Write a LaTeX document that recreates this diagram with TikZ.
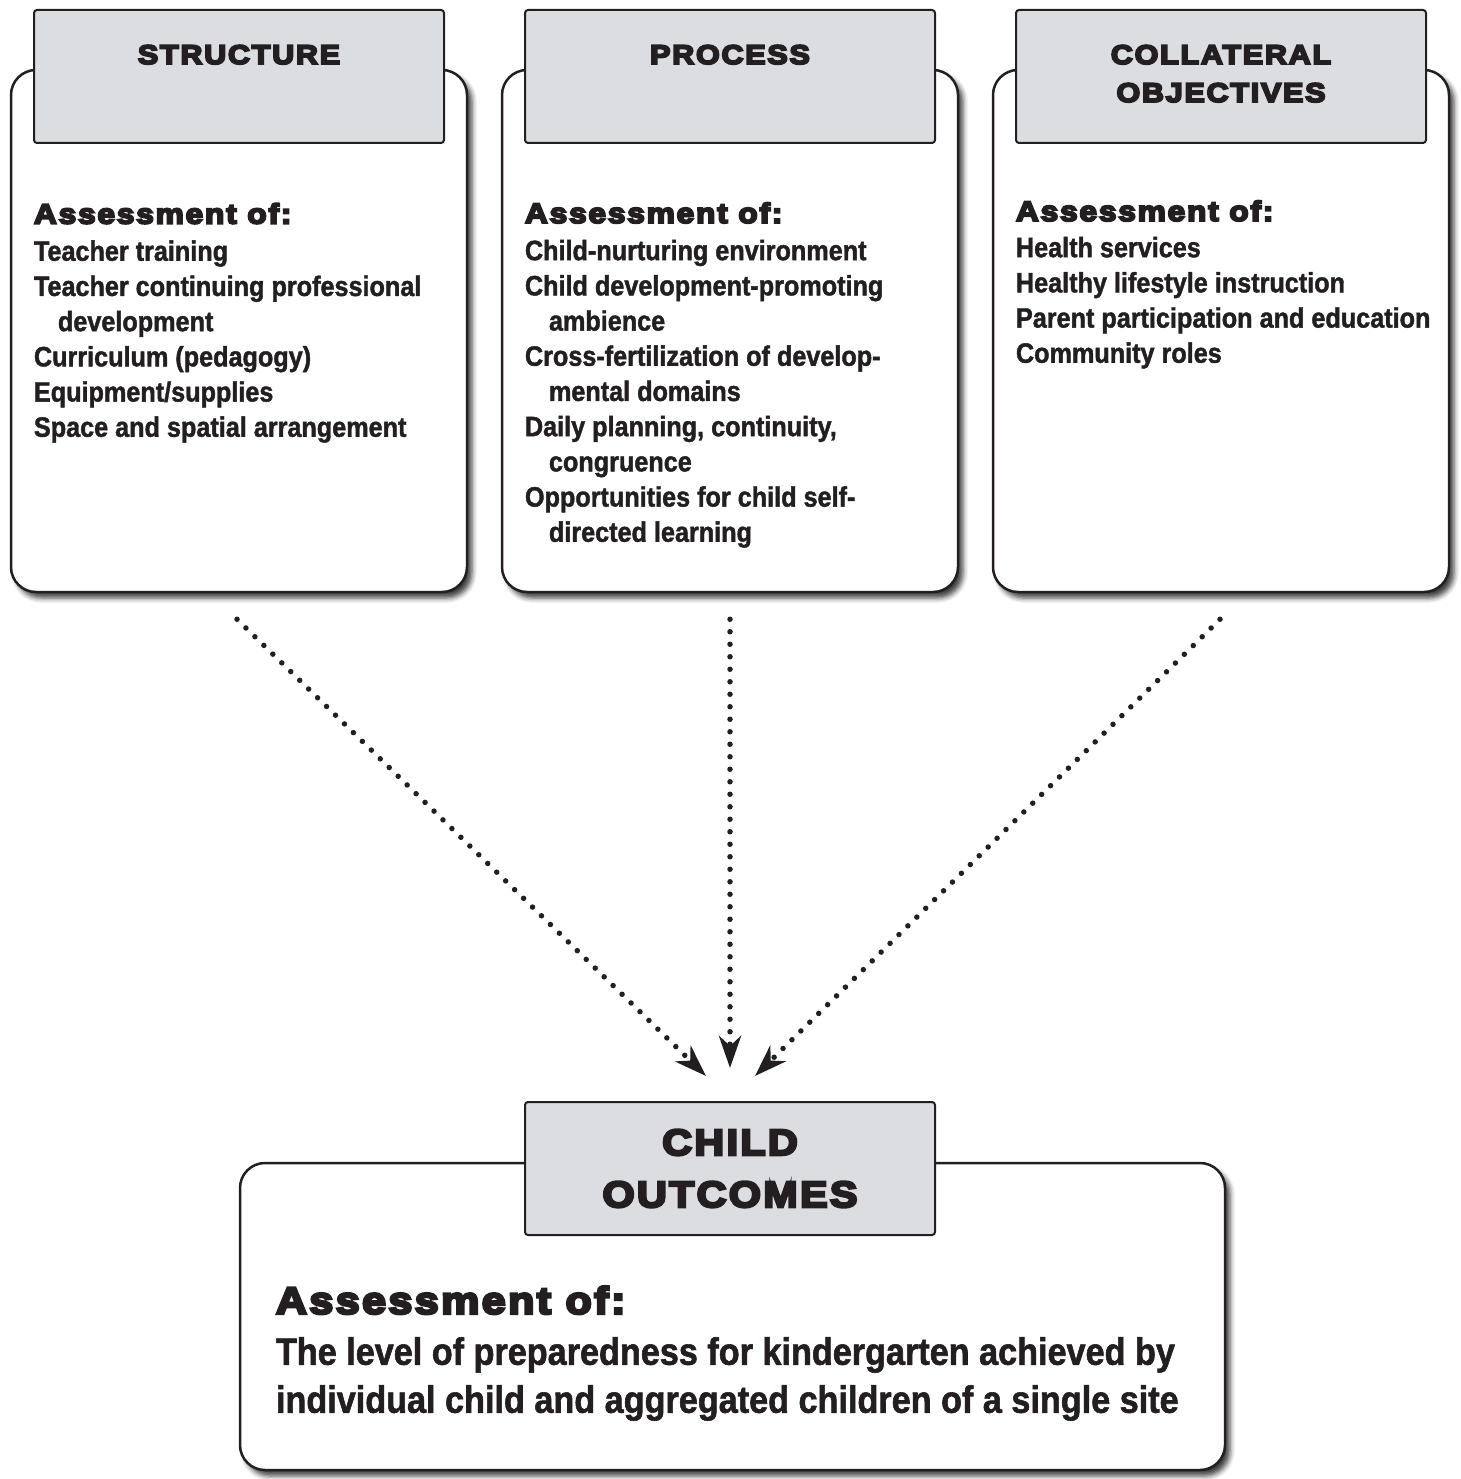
\documentclass[tikz,border=0pt]{standalone}
\usepackage{fontspec}
\setmainfont{Liberation Sans}
\newfontfamily\bodyfont[FakeStretch=0.9,FakeBold=1.5]{Liberation Sans}
\newfontfamily\heavyfont[FakeStretch=1.13,FakeBold=7,LetterSpace=6.5]{Liberation Sans}
\usepackage{tikz}
\usetikzlibrary{arrows.meta, calc, shadows.blur, positioning}
\definecolor{ink}{HTML}{231F20}
\definecolor{headgray}{HTML}{DCDDE0}
\newcommand{\hangline}[1]{\hspace*{24pt}#1}
\newcommand{\assesshead}{{\heavyfont\bfseries Assessment of:}}

\begin{document}
\begin{tikzpicture}[x=1pt, y=-1pt,
    panel/.style={draw=ink, line width=2.5pt, rounded corners=25pt, fill=white,
        minimum width=456pt, minimum height=522pt, inner sep=0pt,
        blur shadow={shadow xshift=5pt, shadow yshift=-6pt, shadow blur radius=5pt, shadow opacity=75}},
    headbox/.style={draw=ink, line width=2pt, rounded corners=3pt, fill=headgray,
        minimum width=410pt, minimum height=133pt, inner sep=0pt},
    headtext/.style={font=\heavyfont\bfseries\fontsize{27}{38}\selectfont, text=ink,
        align=center, inner sep=0pt, anchor=base},
    listtext/.style={font=\bodyfont\bfseries\fontsize{28}{35.2}\selectfont, text=ink,
        align=left, inner sep=0pt, anchor=base west},
    dotarrow/.style={draw=ink, line width=5.5pt, line cap=round, dash pattern=on 0pt off 12.5pt,
        -{Stealth[length=32pt, width=22pt, inset=10pt]}}
]
    \useasboundingbox (0,0) rectangle (1460,1479);

    \node[panel] (structure) at (239,331) {};
    \node[panel] (process) at (730,331) {};
    \node[panel] (collateral) at (1221,331) {};
    \node[panel, minimum width=985pt, minimum height=307pt] (outcomes) at (732.5,1316.5) {};

    \node[headbox] (structurehead) at (239,76.5) {};
    \node[headbox] (processhead) at (730,76.5) {};
    \node[headbox] (collateralhead) at (1221,76.5) {};
    \node[headbox] (outcomeshead) at (730,1168.5) {};

    \node[headtext] (structuretitle) at ($(structurehead.north)+(0,55)$) {STRUCTURE};
    \node[headtext] (processtitle) at ($(processhead.north)+(0,55)$) {PROCESS};
    \node[headtext] (collateraltitle) at ($(collateralhead.north)+(0,93)$) {COLLATERAL\\OBJECTIVES};
    \node[headtext, font=\heavyfont\bfseries\fontsize{36.5}{52}\selectfont]
        (outcomestitle) at ($(outcomeshead.north)+(0,106)$) {CHILD\\OUTCOMES};

    \node[listtext] (structurelist) at ($(structure.north west)+(24,368)$) {
        \assesshead\\[2pt]
        Teacher training\\
        Teacher continuing professional\\
        \hangline{development}\\
        Curriculum (pedagogy)\\
        Equipment/supplies\\
        Space and spatial arrangement};
    \node[listtext] (processlist) at ($(process.north west)+(24,473)$) {
        \assesshead\\[2pt]
        Child-nurturing environment\\
        Child development-promoting\\
        \hangline{ambience}\\
        Cross-fertilization of develop-\\
        \hangline{mental domains}\\
        Daily planning, continuity,\\
        \hangline{congruence}\\
        Opportunities for child self-\\
        \hangline{directed learning}};
    \node[listtext] (collaterallist) at ($(collateral.north west)+(24,294)$) {
        \assesshead\\[1pt]
        Health services\\
        Healthy lifestyle instruction\\
        Parent participation and education\\
        Community roles};
    \node[listtext, font=\bodyfont\bfseries\fontsize{38}{48}\selectfont]
        (outcomeslist) at ($(outcomes.north west)+(37,251)$) {
        \assesshead\\[3pt]
        The level of preparedness for kindergarten achieved by\\
        individual child and aggregated children of a single site};

    \coordinate (structureout) at ($(structure.south)+(-2,26)$);
    \coordinate (processout) at ($(process.south)+(0,26)$);
    \coordinate (collateralout) at ($(collateral.south)+(-1,26)$);
    \coordinate (structurein) at ($(outcomeshead.north)+(-24,-25)$);
    \coordinate (processin) at ($(outcomeshead.north)+(0,-33)$);
    \coordinate (collateralin) at ($(outcomeshead.north)+(25,-25)$);

    \draw[dotarrow] (structureout) -- (structurein);
    \draw[dotarrow] (processout) -- (processin);
    \draw[dotarrow] (collateralout) -- (collateralin);
\end{tikzpicture}
\end{document}
